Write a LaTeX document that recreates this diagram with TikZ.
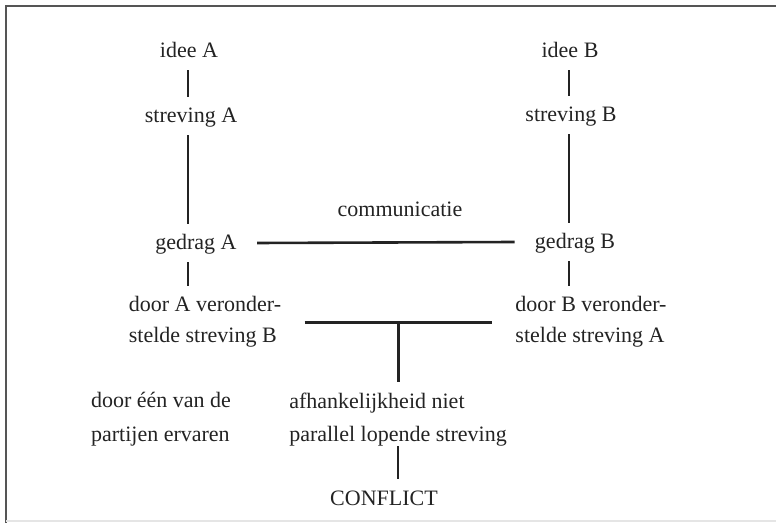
\documentclass[tikz,border=0pt]{standalone}
\usepackage{fontspec}
\setmainfont{Liberation Serif}
\usetikzlibrary{calc}
\definecolor{inkgray}{RGB}{35,35,35}
\definecolor{framegray}{RGB}{85,85,85}

\begin{document}
\begin{tikzpicture}[x=0.5pt, y=-0.5pt,
    lbl/.style={font=\fontsize{11}{13.6}\selectfont, text=inkgray, anchor=base,
      inner xsep=10pt, inner ysep=5pt, text height=8pt, text depth=1pt},
    blk/.style={font=\fontsize{11}{13.6}\selectfont, text=inkgray, anchor=base,
      align=left, inner xsep=11.5pt, inner ysep=5pt},
    link/.style={draw=inkgray, line width=1.3pt}]
    \useasboundingbox (0,0) rectangle (776,523);

    % Frame (top and left edge, bottom faded)
    \draw[framegray, line width=1pt] (776,6) -- (6,6) -- (6,523);
    \draw[gray!20, line width=0.6pt] (6,521) -- (776,521);

    % Columns
    \coordinate (colA) at (188,0);
    \coordinate (colB) at (569,0);

    % Party A (block nodes sit on the baseline of their last line)
    \node[lbl] (ideeA) at (189,58) {idee A};
    \node[lbl] (strevA) at (191,123) {streving A};
    \node[lbl] (gedragA) at (196,250) {gedrag A};
    \node[blk] (doorA) at (205,343) {door A veronder-\\[1.9pt]stelde streving B};

    % Party B
    \node[lbl] (ideeB) at (570,58) {idee B};
    \node[lbl] (strevB) at (571,122) {streving B};
    \node[lbl] (gedragB) at (575,249) {gedrag B};
    \node[blk] (doorB) at (591,343) {door B veronder-\\[1.9pt]stelde streving A};

    % Middle and bottom
    \node[lbl] (comm) at (400,217) {communicatie};
    \node[blk] (ervaren) at (161,441) {door één van de\\[3.4pt]partijen ervaren};
    \node[blk] (afh) at (398,442) {afhankelijkheid niet\\[3.4pt]parallel lopende streving};
    \node[lbl] (conflict) at (384,505) {CONFLICT};

    % Vertical links
    \draw[link] (colA |- ideeA.south) -- (colA |- strevA.north);
    \draw[link] (colA |- strevA.south) -- (colA |- gedragA.north);
    \draw[link] (colA |- gedragA.south) -- (colA |- doorA.north);
    \draw[link] (colB |- ideeB.south) -- (colB |- strevB.north);
    \draw[link] (colB |- strevB.south) -- (colB |- gedragB.north);
    \draw[link] (colB |- gedragB.south) -- (colB |- doorB.north);

    % Communication and join
    \draw[link] (gedragA.east) -- (gedragB.west);
    \draw[link] (doorA.east) -- coordinate[midway] (join) (doorB.west);
    \draw[link] (join) -- (join |- afh.north);
    \draw[link, shorten <=-5.5pt] (afh.south) -- (afh.south |- conflict.north);
\end{tikzpicture}
\end{document}
